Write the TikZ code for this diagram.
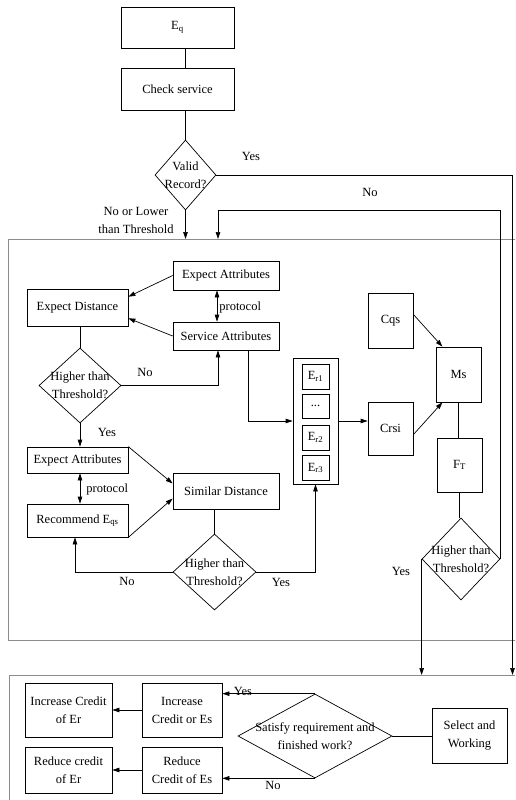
\documentclass[tikz,border=0pt]{standalone}
\usepackage{fontspec}
\setmainfont{Liberation Serif}
\usepackage{tikz}
\usetikzlibrary{shapes.geometric, arrows.meta, positioning}

\begin{document}
\begin{tikzpicture}[x=1pt, y=-1pt, line width=0.7pt,
    font=\fontsize{12.5}{18}\selectfont,
    >={Triangle[length=7pt,width=4.5pt]},
    box/.style={rectangle, draw=black, inner sep=0pt, align=center},
    dia/.style={diamond, draw=black, inner sep=0pt},
    frame/.style={draw=black!45, line width=0.8pt},
    lbl/.style={inner sep=0pt, align=center}]
    \useasboundingbox (0,0) rectangle (515,800);
    \clip (0,0) rectangle (515,800);

    % Frames
    \draw[frame] (8.5,239) rectangle (530,640);
    \draw[frame] (9,675) rectangle (530,820);

    % Define nodes
    \node (eq) [box, minimum width=113pt, minimum height=41pt] at (177.5,27.5) {E\textsubscript{q}};
    \node (check) [box, minimum width=113pt, minimum height=42pt] at (177.5,89) {Check service};
    \node (valid) [dia, minimum width=61pt, minimum height=70pt, label={[lbl]center:Valid\\Record?}] at (185.5,175) {};

    \node (ea1) [box, minimum width=106pt, minimum height=29pt] at (226,275.5) {Expect Attributes};
    \node (sa) [box, minimum width=106pt, minimum height=28pt] at (226,336) {Service Attributes};
    \node (ed) [box, minimum width=101pt, minimum height=37pt] at (77.5,307.5) {Expect Distance};
    \node (ht1) [dia, minimum width=82pt, minimum height=75pt, label={[lbl]center:Higher than\\Threshold?}] at (80,385.5) {};
    \node (ea2) [box, minimum width=101pt, minimum height=26pt] at (77.5,460) {Expect Attributes};
    \node (rec) [box, minimum width=101pt, minimum height=33pt] at (77.5,520.5) {Recommend E\textsubscript{qs}};
    \node (sd) [box, minimum width=106pt, minimum height=36pt] at (226,491) {Similar Distance};
    \node (ht2) [dia, minimum width=83pt, minimum height=76pt, label={[lbl]center:Higher than\\Threshold?}] at (214.5,572) {};

    \node (ebox) [box, minimum width=45pt, minimum height=126pt] at (315.5,421) {};
    \node (er1) [box, minimum width=27pt, minimum height=25pt] at (315.5,376.5) {E\textsubscript{r1}};
    \node (erdots) [box, minimum width=27pt, minimum height=24pt] at (315.5,406) {...};
    \node (er2) [box, minimum width=27pt, minimum height=25pt] at (315.5,437.5) {E\textsubscript{r2}};
    \node (er3) [box, minimum width=27pt, minimum height=25pt] at (315.5,468) {E\textsubscript{r3}};

    \node (cqs) [box, minimum width=45pt, minimum height=55pt] at (390.5,320.5) {Cqs};
    \node (crsi) [box, minimum width=45pt, minimum height=53pt] at (390.5,428.5) {Crsi};
    \node (ms) [box, minimum width=45pt, minimum height=55pt] at (458.5,374.5) {Ms};
    \node (ft) [box, minimum width=45pt, minimum height=54pt] at (459.5,465) {F\textsubscript{T}};
    \node (ht3) [dia, minimum width=78pt, minimum height=82pt, label={[lbl]center:Higher than\\Threshold?}] at (461,559) {};

    \node (icr) [box, minimum width=87pt, minimum height=54pt] at (68.5,710) {Increase Credit\\of Er};
    \node (ice) [box, minimum width=80pt, minimum height=54pt] at (182,710) {Increase\\Credit or Es};
    \node (rcr) [box, minimum width=87pt, minimum height=46pt] at (68.5,770) {Reduce credit\\of Er};
    \node (rce) [box, minimum width=80pt, minimum height=46pt] at (182,770) {Reduce\\Credit of Es};
    \node (sat) [dia, minimum width=154pt, minimum height=84pt, label={[lbl]center:Satisfy requirement and\\finished work?}] at (315,736) {};
    \node (sel) [box, minimum width=75pt, minimum height=55pt] at (469.5,736) {Select and\\Working};

    % Free ends
    \coordinate (yesin) at (512.5,675);
    \coordinate (noturn) at (218,210);
    \coordinate (noin) at (218,239);
    \coordinate (lowin) at (185.5,239);
    \coordinate (ftin) at (425,675);

    % Labels
    \node (lyes1) [lbl] at (251,156) {Yes};
    \node (lno1) [lbl] at (370,192) {No};
    \node (llow) [lbl] at (136,220) {No or Lower\\than Threshold};
    \node (lproto1) [lbl, anchor=west] at (219,307) {protocol};
    \node (lno2) [lbl] at (145,372) {No};
    \node (lyes2) [lbl] at (107,432) {Yes};
    \node (lproto2) [lbl, anchor=west] at (86,489) {protocol};
    \node (lno3) [lbl] at (127,581) {No};
    \node (lyes3) [lbl] at (281,582) {Yes};
    \node (lyes4) [lbl] at (401,571) {Yes};
    \node (lyes5) [lbl] at (243,691) {Yes};
    \node (lno5) [lbl] at (273,785) {No};

    % Connect nodes
    \draw (eq.south -| valid) -- (check.north -| valid);
    \draw (check.south -| valid) -- (valid.north);
    \draw[->] (valid.east) -| (yesin);
    \draw[->] (valid.south) -- (lowin);
    \draw[->] (ht3.east) |- (noturn) -- (noin);

    \draw[->] (ea1.west) -- (ed.12);
    \draw[->] (sa.west) -- (ed.-12);
    \draw[<->] ([xshift=-9pt]ea1.south) -- ([xshift=-9pt]sa.north);
    \draw (ed.south -| ht1) -- (ht1.north);
    \draw[->] (ht1.east) -| ([xshift=-8pt]sa.south);
    \draw[->] (ht1.south) -- (ht1.south |- ea2.north);
    \draw[<->] (ea2.south -| ht1) -- (rec.north -| ht1);
    \draw[->] (ea2.north east) -- (sd.172);
    \draw[->] (rec.south east) -- (sd.188);
    \draw (sd.south -| ht2) -- (ht2.north);
    \draw[->] (ht2.west) -| ([xshift=-2.5pt]rec.south);
    \draw[->] (ht2.east) -| (ebox.south);

    \draw[->] ([xshift=22pt]sa.south) |- (ebox.west);
    \draw[->] (ebox.east) -- (ebox.east -| crsi.west);
    \draw[->] (cqs.15) -- (ms.120);
    \draw[->] (crsi.-15) -- (ms.240);
    \draw (ms.south) -- (ms.south |- ft.north);
    \draw (ft.south) -- (ft.south |- ht3.north);
    \draw[->] (ht3.west) -- (ht3.west |- ftin);

    \draw (sel.west) -- (sat.east);
    \draw[->] (sat.north) -- (sat.north -| ice.east);
    \draw[->] (sat.south) -- (sat.south -| rce.east);
    \draw[->] (ice.west) -- (icr.east);
    \draw[->] (rce.west) -- (rcr.east);
\end{tikzpicture}
\end{document}
